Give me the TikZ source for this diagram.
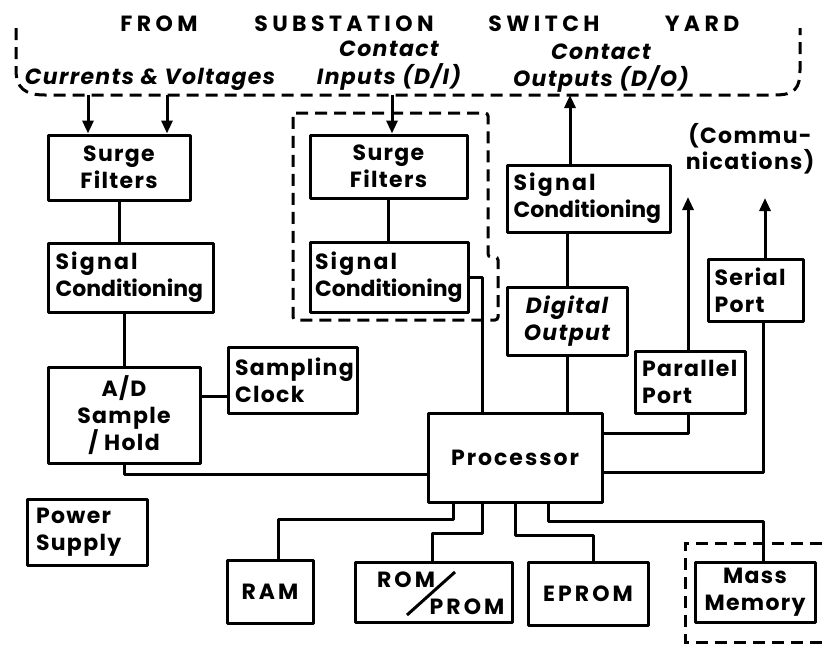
\documentclass[tikz,border=0pt]{standalone}
\usepackage{fontspec}
\setmainfont{Poppins}
\usetikzlibrary{arrows.meta,calc}
\newcommand\lblfont{\fontsize{22}{27}\selectfont\bfseries\addfontfeature{LetterSpace=6}}
\newcommand\widefont{\fontsize{22}{27}\selectfont\bfseries\addfontfeature{LetterSpace=14}}
\newcommand\procfont{\fontsize{22}{27}\selectfont\bfseries\addfontfeature{LetterSpace=9}}
\newcommand\plainfont{\fontsize{22}{27}\selectfont\bfseries}
\newcommand\ttlfont{\fontsize{22}{26}\selectfont\bfseries\addfontfeature{LetterSpace=20}}
\newcommand\sig{{\addfontfeature{LetterSpace=10}Signal}}
\tikzset{
  box/.style={draw, line width=3pt, line join=round, inner sep=0pt, font=\lblfont, align=center},
  lbox/.style={box, align=left, text width=#1},
  conn/.style={line width=3pt, line join=round},
  arr/.style={line width=3pt, -{Triangle[length=13pt,width=11pt]}},
  dashline/.style={line width=3pt, dash pattern=on 12pt off 7pt},
  ttl/.style={font=\ttlfont, inner sep=0pt},
  toplbl/.style={font=\lblfont\itshape, inner sep=0pt, align=center},
  plainlbl/.style={font=\lblfont, inner sep=0pt, align=center}
}
\begin{document}
\begin{tikzpicture}[x=1pt,y=-1pt]
\useasboundingbox[fill=white] (0,0) rectangle (822,646);

% title and labels
\node[ttl] (t1) at (159,24) {FROM};
\node[ttl] (t2) at (344,24) {SUBSTATION};
\node[ttl] (t3) at (544,24) {SWITCH};
\node[ttl] (t4) at (702,24) {YARD};
\node[toplbl] (l1) at (150,79) {Currents \& Voltages};
\node[toplbl, font=\fontsize{22}{28}\selectfont\bfseries\itshape\addfontfeature{LetterSpace=6}] (l2) at (389,66) {Contact\\Inputs (D/I)};
\node[toplbl, font=\fontsize{22}{27}\selectfont\bfseries\itshape\addfontfeature{LetterSpace=6}] (l3) at (601,68) {Contact\\Outputs (D/O)};
\node[plainlbl, font=\fontsize{22}{23}\selectfont\bfseries\addfontfeature{LetterSpace=6}] (l4) at (750,149) {(Commu-\\nications)};

% top bus
\draw[dashline] (16,28) -- (16,70) .. controls (16,88) and (25,95) .. (45,95) -- (775,95) .. controls (795,95) and (800,88) .. (800,70) -- (800,28);
\coordinate (b1) at (88,95);
\coordinate (b2) at (167,95);
\coordinate (b3) at (392,95);
\coordinate (b4) at (570,95);

% boxes
\node[box, minimum width=142, minimum height=65] (sfL) at (119,167.5) {Surge\\Filters};
\node[lbox=150, font=\plainfont, minimum width=165, minimum height=69] (scL) at (130.5,277.5) {\sig\\Conditioning};
\node[box, minimum width=152, minimum height=96] (ad) at (124,415) {A/D\\Sample\\/ Hold};
\node[lbox=115, minimum width=129, minimum height=66] (clk) at (292.5,380) {Sampling\\Clock};
\node[lbox=102, minimum width=120, minimum height=66] (pwr) at (87,532) {Power\\Supply};
\node[box, minimum width=157, minimum height=63] (sfM) at (388.5,166.5) {Surge\\Filters};
\node[lbox=148, font=\plainfont, minimum width=158, minimum height=70] (scM) at (389,277) {\sig\\Conditioning};
\node[lbox=150, font=\plainfont, minimum width=163, minimum height=67] (scR) at (588.5,198.5) {\sig\\Conditioning};
\node[box, font=\lblfont\itshape, minimum width=120, minimum height=68] (dout) at (567,321) {Digital\\Output};
\node[lbox=96, minimum width=110, minimum height=62] (par) at (690,382) {Parallel\\Port};
\node[lbox=82, minimum width=95, minimum height=62] (ser) at (755.5,290) {Serial\\Port};
\node[box, font=\procfont, minimum width=174, minimum height=89] (proc) at (515,457.5) {Processor};
\node[box, font=\widefont, minimum width=86, minimum height=63] (ram) at (270,591.5) {RAM};
\node[box, minimum width=157, minimum height=60] (rom) at (433.5,592) {};
\node[plainlbl, font=\widefont] (romt) at (406,580) {ROM};
\node[plainlbl, font=\widefont] (promt) at (467,607) {PROM};
\draw[line width=3pt] (407,615) -- (455,572);
\node[box, font=\widefont, minimum width=120, minimum height=63] (eprom) at (588,593.5) {EPROM};
\node[box, minimum width=120, minimum height=60] (mass) at (755,592) {Mass\\Memory};

% dashed enclosures
\draw[dashline, rounded corners=3pt] (293,113) -- (488,113) -- (488,257) -- (498,257) -- (498,320) -- (293,320) -- cycle;
\draw[dashline] (822,543) -- (685,543) -- (685,642) -- (822,642);

% connectors
\draw[arr] (b1) -- (b1 |- sfL.north);
\draw[arr] (b2) -- (b2 |- sfL.north);
\draw[arr] (b3) -- (b3 |- sfM.north);
\draw[arr] (b4 |- scR.north) -- (b4);
\draw[conn] (sfL.south) -- (sfL.south |- scL.north);
\draw[conn] (ad.north |- scL.south) -- (ad.north);
\draw[conn] ([yshift=-16pt]clk.west) -- ([yshift=-16pt]clk.west -| ad.east);
\draw[conn] (ad.south) |- ([yshift=-16.5pt]proc.west);
\draw[conn] (sfM.south) -- (sfM.south |- scM.north);
\draw[conn] (scM.east) -| ([xshift=-33pt]proc.north);
\draw[conn] (scR.south -| dout.north) -- (dout.north);
\draw[conn] (dout.south) -- (dout.south |- proc.north);
\coordinate (c1) at (688,197);
\coordinate (c2) at (765,198);
\draw[arr] (par.north -| c1) -- (c1);
\draw[conn] (par.south -| c1) |- ([yshift=24.5pt]proc.east);
\draw[arr] (ser.north -| c2) -- (c2);
\draw[conn] ([xshift=7.5pt]ser.south) |- ([yshift=-14.5pt]proc.east);
\draw[conn] ([xshift=-62pt]proc.south) -- ++(0,16) -| ([xshift=8pt]ram.north);
\draw[conn] ([xshift=-33pt]proc.south) -- ++(0,30) -| ([xshift=-1.5pt]rom.north);
\draw[conn] (proc.south) -- ++(0,32) -| ([xshift=5pt]eprom.north);
\draw[conn] ([xshift=33pt]proc.south) -- ++(0,18) -| ([xshift=8pt]mass.north);
\end{tikzpicture}
\end{document}
